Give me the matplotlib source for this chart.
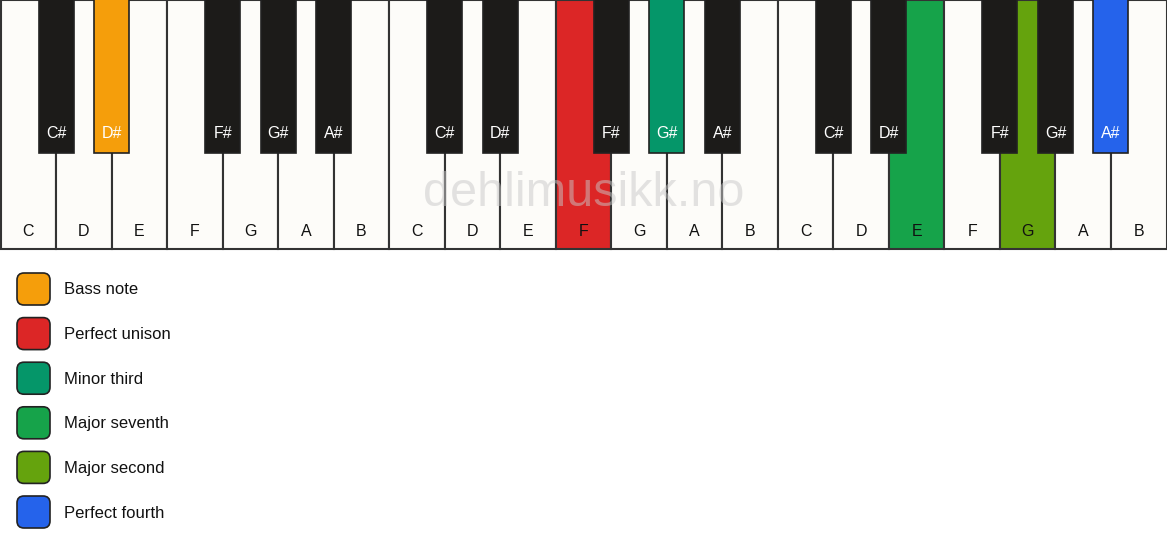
import matplotlib
matplotlib.use("Agg")
import matplotlib.pyplot as plt
from matplotlib.patches import Rectangle, FancyBboxPatch

# ---- data ----
white_notes = ["C", "D", "E", "F", "G", "A", "B"]
black_notes = ["C#", "D#", "F#", "G#", "A#"]
black_after_white = [0, 1, 3, 4, 5]   # black key sits after this white index in octave
n_octaves = 3
highlights = {  # (octave, note) -> color
    (0, "D#"): "#f59e0b",
    (1, "F"): "#dc2626",
    (1, "G#"): "#059669",
    (2, "E"): "#16a34a",
    (2, "G"): "#65a30d",
    (2, "A#"): "#2563eb",
}
legend_labels = ["Bass note", "Perfect unison", "Minor third",
                 "Major seventh", "Major second", "Perfect fourth"]
legend_colors = ["#f59e0b", "#dc2626", "#059669", "#16a34a", "#65a30d", "#2563eb"]
watermark = "dehlimusikk.no"

# ---- layout ----
W, H = 1167, 550
fig = plt.figure(figsize=(W / 100, H / 100), dpi=100)
ax = fig.add_axes([0, 0, 1, 1])
ax.set_xlim(0, W)
ax.set_ylim(H, 0)
ax.axis("off")
fig.patch.set_facecolor("white")

font = ["Liberation Sans", "DejaVu Sans"]
n_white = len(white_notes) * n_octaves
ww = (W - 1) / n_white
kb_h = 249
bk_w = 35
bk_h = 153
white_fill = "#fdfcf9"
black_fill = "#1c1b19"
edge = "#333333"

for o in range(n_octaves):
    for i, nm in enumerate(white_notes):
        x = (o * 7 + i) * ww + 0.5
        c = highlights.get((o, nm), white_fill)
        ax.add_patch(Rectangle((x, 0), ww, kb_h, facecolor=c, edgecolor=edge, lw=1.5, zorder=1))
        ax.text(x + ww / 2, 231, nm, ha="center", va="center", fontsize=11.5,
                family=font, color="#111111", zorder=5)

for o in range(n_octaves):
    for nm, wi in zip(black_notes, black_after_white):
        cx = (o * 7 + wi + 1) * ww + 0.5
        c = highlights.get((o, nm), black_fill)
        ax.add_patch(Rectangle((cx - bk_w / 2, -2), bk_w, bk_h + 2, facecolor=c,
                               edgecolor="#222222", lw=1.2, zorder=3))
        ax.text(cx, 133, nm, ha="center", va="center", fontsize=11.5,
                family=font, color="white", zorder=5)

ax.text(W / 2, 193, watermark, ha="center", va="center", fontsize=35,
        family=font, color="#c8c8c8", alpha=0.5, zorder=6)

# legend
for k, (lab, col) in enumerate(zip(legend_labels, legend_colors)):
    cy = 289 + k * 44.6
    ax.add_patch(FancyBboxPatch((17, cy - 16), 33, 32,
                                boxstyle="round,pad=0,rounding_size=7",
                                facecolor=col, edgecolor="#222222", lw=1.2, zorder=2))
    ax.text(64, cy + 1, lab, ha="left", va="center", fontsize=12,
            family=font, color="#111111")

fig.savefig("out.png", dpi=100)
